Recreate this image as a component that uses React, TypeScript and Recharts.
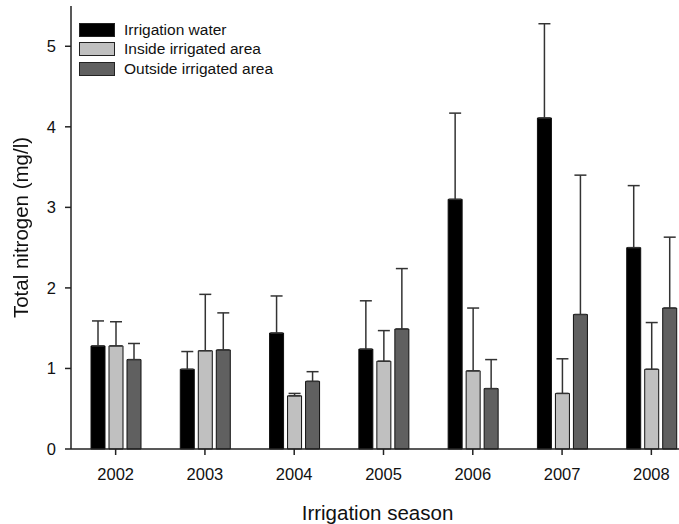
import React from 'react';
import { BarChart, Bar, XAxis, YAxis, Legend, ErrorBar, Label } from 'recharts';

const years = ['2002', '2003', '2004', '2005', '2006', '2007', '2008'];

// mean total nitrogen (mg/l)
const irrigationWater = [1.28, 0.99, 1.44, 1.24, 3.1, 4.11, 2.5];
const insideArea = [1.28, 1.22, 0.66, 1.09, 0.97, 0.69, 0.99];
const outsideArea = [1.11, 1.23, 0.84, 1.49, 0.75, 1.67, 1.75];

// top of error bar (mean + SD)
const irrigationWaterTop = [1.59, 1.21, 1.9, 1.84, 4.17, 5.28, 3.27];
const insideAreaTop = [1.58, 1.92, 0.69, 1.47, 1.75, 1.12, 1.57];
const outsideAreaTop = [1.31, 1.69, 0.96, 2.24, 1.11, 3.4, 2.63];

const seriesNames = ['Irrigation water', 'Inside irrigated area', 'Outside irrigated area'];
const yTicks = [0, 1, 2, 3, 4, 5];

const FONT = '"Liberation Sans", Arial, Helvetica, sans-serif';

const data = years.map((year, i) => ({
  year,
  water: irrigationWater[i],
  inside: insideArea[i],
  outside: outsideArea[i],
  waterErr: [0, irrigationWaterTop[i] - irrigationWater[i]],
  insideErr: [0, insideAreaTop[i] - insideArea[i]],
  outsideErr: [0, outsideAreaTop[i] - outsideArea[i]],
}));

const LegendBox = (props: any) => {
  const items = [...(props.payload || [])].sort(
    (a: any, b: any) => seriesNames.indexOf(a.value) - seriesNames.indexOf(b.value)
  );
  return (
    <div style={{ fontFamily: FONT, fontSize: 15.5, color: '#111', whiteSpace: 'nowrap' }}>
      {items.map((entry: any) => (
        <div key={entry.value} style={{ display: 'flex', alignItems: 'center', height: 19.5 }}>
          <span
            style={{
              display: 'inline-block',
              width: 34,
              height: 12,
              background: entry.color,
              border: '1px solid #222',
              marginRight: 9,
            }}
          />
          <span>{entry.value}</span>
        </div>
      ))}
    </div>
  );
};

const App: React.FC = () => {
  return (
    <div style={{ position: 'absolute', left: 0, top: 0, width: 679, height: 524, overflow: 'hidden', background: '#fff' }}>
      <BarChart
        width={700}
        height={524}
        data={data}
        margin={{ top: 6, right: 4, bottom: 0, left: 0 }}
        barSize={14}
        barGap={4}
      >
        <XAxis
          dataKey="year"
          interval={0}
          height={75}
          tickSize={6}
          tickMargin={13}
          stroke="#222"
          strokeWidth={1.5}
          tick={{ fill: '#111', fontSize: 16.5, fontFamily: FONT }}
        >
          <Label
            value="Irrigation season"
            position="insideBottom"
            offset={4}
            dx={-6}
            fill="#111"
            stroke="none"
            fontSize={20.5}
            fontFamily={FONT}
          />
        </XAxis>
        <YAxis
          width={71}
          domain={[0, 5.5]}
          ticks={yTicks}
          tickSize={6}
          tickMargin={9}
          stroke="#222"
          strokeWidth={1.5}
          tick={{ fill: '#111', fontSize: 16.5, fontFamily: FONT }}
        >
          <Label
            value="Total nitrogen (mg/l)"
            angle={-90}
            position="insideLeft"
            offset={21}
            fill="#111"
            stroke="none"
            fontSize={20.5}
            fontFamily={FONT}
            style={{ textAnchor: 'middle', filter: 'grayscale(100%)' }}
          />
        </YAxis>
        <Legend
          verticalAlign="middle"
          align="center"
          layout="horizontal"
          content={<LegendBox />}
          wrapperStyle={{ top: 20, left: 79, width: 'auto' }}
        />
        <Bar dataKey="water" name={seriesNames[0]} fill="#000000" stroke="#111" strokeWidth={1} isAnimationActive={false}>
          <ErrorBar dataKey="waterErr" width={6} stroke="#333" strokeWidth={1.5} direction="y" />
        </Bar>
        <Bar dataKey="inside" name={seriesNames[1]} fill="#c0c0c0" stroke="#111" strokeWidth={1} isAnimationActive={false}>
          <ErrorBar dataKey="insideErr" width={6} stroke="#333" strokeWidth={1.5} direction="y" />
        </Bar>
        <Bar dataKey="outside" name={seriesNames[2]} fill="#606060" stroke="#111" strokeWidth={1} isAnimationActive={false}>
          <ErrorBar dataKey="outsideErr" width={6} stroke="#333" strokeWidth={1.5} direction="y" />
        </Bar>
      </BarChart>
    </div>
  );
};

export default App;
